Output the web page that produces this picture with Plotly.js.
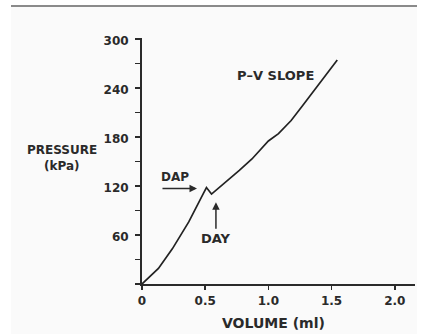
<!DOCTYPE html>
<html>
<head>
<meta charset="utf-8">
<script src="https://cdn.plot.ly/plotly-3.0.1.min.js"></script>
<style>
html,body{margin:0;padding:0;background:#ffffff;}
#chart{width:425px;height:334px;}
</style>
</head>
<body>
<div id="chart"></div>
<script>
// Volume (ml) and pressure (kPa)
var volume   = [0, 0.08, 0.13, 0.24, 0.37, 0.49, 0.51, 0.55, 0.62, 0.70, 0.77, 0.87, 1.00, 1.08, 1.18, 1.27, 1.37, 1.45, 1.545];
var pressure = [0, 11, 19, 43, 76, 112, 118, 110, 119, 130, 139, 153, 175, 184, 200, 218, 238, 255, 274];

var xTickVals = [0, 0.5, 1.0, 1.5, 2.0];
var xTickText = ["0", "0.5", "1.0", "1.5", "2.0"];
var yTickVals = [60, 120, 180, 240, 300];
var yTickText = ["60", "120", "180", "240", "300"];

var ink = "#2a2a2a";
var tickFont = {family: "DejaVu Sans", size: 12, color: ink, weight: "bold"};
var lblFont = function(sz){ return {family: "DejaVu Sans", size: sz, color: ink, weight: "bold"}; };

var trace = {
  x: volume, y: pressure, type: "scatter", mode: "lines",
  line: {color: "#222", width: 1.7}, hoverinfo: "none"
};

var layout = {
  width: 425, height: 334,
  margin: {l: 142, r: 10, t: 38, b: 50},
  paper_bgcolor: "#ffffff", plot_bgcolor: "rgba(0,0,0,0)",
  showlegend: false,
  xaxis: {
    range: [0, 2.16], showgrid: false, zeroline: false,
    showline: true, linecolor: ink, linewidth: 2,
    ticks: "outside", ticklen: 4, tickwidth: 1.5, tickcolor: ink,
    tickmode: "array", tickvals: xTickVals, ticktext: xTickText,
    tickfont: tickFont, ticklabelstandoff: 1
  },
  yaxis: {
    range: [0, 301], showgrid: false, zeroline: false,
    showline: true, linecolor: ink, linewidth: 2,
    ticks: "outside", ticklen: 5, tickwidth: 1.5, tickcolor: ink,
    tickmode: "array", tickvals: yTickVals, ticktext: yTickText,
    tickfont: tickFont, ticklabelstandoff: 4, ticklabelshift: 2,
    minor: {tickmode: "linear", tick0: 0, dtick: 30, ticks: "outside", ticklen: 5, tickwidth: 1.5, tickcolor: ink}
  },
  shapes: [
    {type: "rect", xref: "paper", yref: "paper", layer: "below",
     x0: (11-142)/273, x1: (417-142)/273, y0: (284-334)/246, y1: (284-7)/246,
     fillcolor: "#fafafa", line: {width: 0}},
    {type: "line", xref: "paper", yref: "paper",
     x0: (11-142)/273, x1: (417-142)/273, y0: (284-6)/246, y1: (284-6)/246,
     line: {color: "#8a8a8a", width: 2}}
  ],
  annotations: [
    {xref: "paper", yref: "paper", x: (62-142)/273, y: (284-150)/246, text: "PRESSURE",
     showarrow: false, font: lblFont(12), xanchor: "center", yanchor: "middle"},
    {xref: "paper", yref: "paper", x: (62-142)/273, y: (284-166)/246, text: "(kPa)",
     showarrow: false, font: lblFont(12), xanchor: "center", yanchor: "middle"},
    {xref: "paper", yref: "paper", x: (273.5-142)/273, y: (284-323)/246, text: "VOLUME (ml)",
     showarrow: false, font: lblFont(14), xanchor: "center", yanchor: "middle"},
    {xref: "x", yref: "y", x: 1.06, y: 255, text: "P–V SLOPE",
     showarrow: false, font: lblFont(13), xanchor: "center", yanchor: "middle"},
    {xref: "x", yref: "y", x: 0.26, y: 131, text: "DAP",
     showarrow: false, font: lblFont(12), xanchor: "center", yanchor: "middle"},
    {xref: "x", yref: "y", x: 0.588, y: 56, text: "DAY",
     showarrow: false, font: lblFont(13), xanchor: "center", yanchor: "middle"},
    {xref: "x", yref: "y", x: 0.435, y: 117, text: "", showarrow: true,
     axref: "pixel", ayref: "pixel", ax: -36, ay: 0,
     arrowhead: 2, arrowsize: 1, arrowwidth: 1.5, arrowcolor: ink, standoff: 0},
    {xref: "x", yref: "y", x: 0.585, y: 100, text: "", showarrow: true,
     axref: "pixel", ayref: "pixel", ax: 0, ay: 28,
     arrowhead: 2, arrowsize: 1, arrowwidth: 1.5, arrowcolor: ink, standoff: 0}
  ]
};

Plotly.newPlot("chart", [trace], layout, {displayModeBar: false, staticPlot: true});
</script>
</body>
</html>
